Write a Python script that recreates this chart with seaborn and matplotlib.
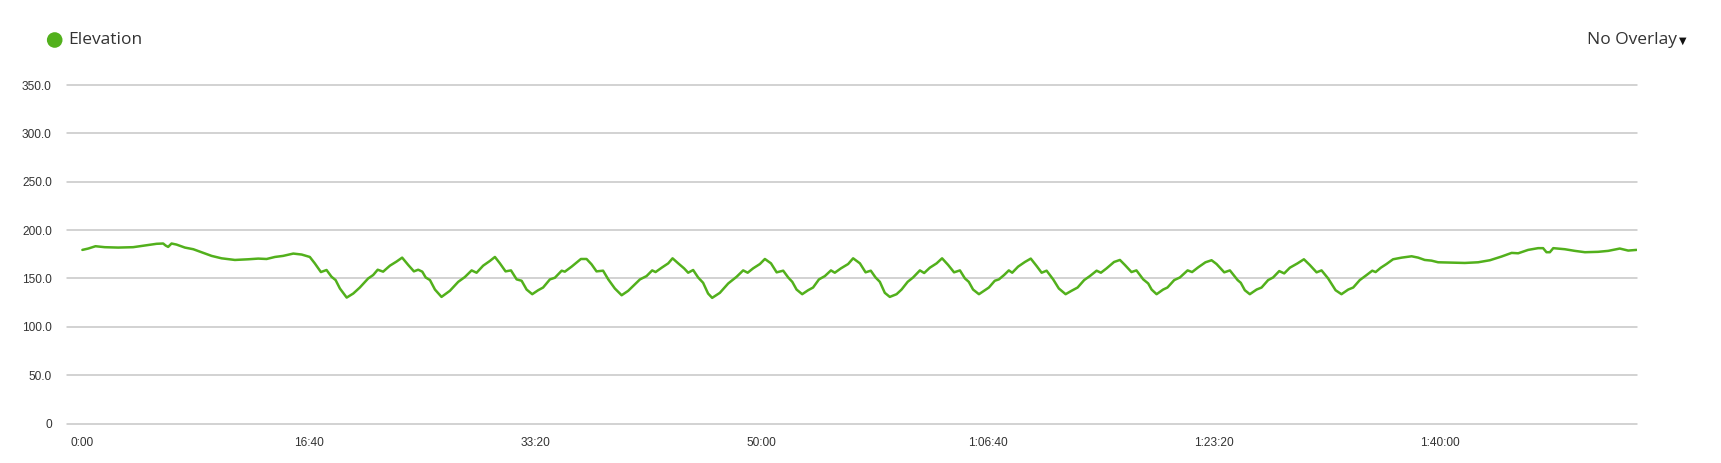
import numpy as np
import pandas as pd
import seaborn as sns
import matplotlib.pyplot as plt
from matplotlib.patches import Ellipse

# elapsed time (s) and elevation (m)
time_s = [0, 26, 58, 99, 158, 224, 276, 328, 357, 368, 379, 394, 416, 453, 490, 527, 571, 615,
          674, 733, 777, 814, 851, 887, 932, 969, 1005, 1027, 1054, 1079, 1101, 1119,
          1138, 1168, 1197, 1226, 1263, 1285, 1305, 1329, 1359, 1388, 1413, 1440, 1465, 1484,
          1502, 1517, 1536, 1558, 1587, 1624, 1661, 1690, 1720, 1742, 1771, 1801, 1823, 1845,
          1870, 1894, 1919, 1941, 1963, 1988, 2014, 2036, 2066, 2088, 2118, 2132, 2162, 2203,
          2228, 2250, 2272, 2301, 2324, 2353, 2383, 2412, 2442, 2464, 2493, 2518, 2533, 2560,
          2589, 2608, 2633, 2659, 2677, 2699, 2721, 2743, 2765, 2783, 2817, 2854, 2891, 2920,
          2940, 2964, 2994, 3016, 3043, 3068, 3097, 3119, 3137, 3156, 3181, 3207, 3229, 3255,
          3281, 3308, 3325, 3352, 3384, 3406, 3436, 3461, 3484, 3505, 3524, 3546, 3568, 3598,
          3620, 3647, 3671, 3701, 3720, 3745, 3775, 3799, 3826, 3852, 3878, 3900, 3917, 3936,
          3962, 3988, 4006, 4032, 4050, 4073, 4094, 4109, 4135, 4165, 4191, 4217, 4239, 4261,
          4290, 4315, 4345, 4371, 4398, 4427, 4452, 4482, 4501, 4526, 4559, 4585, 4607, 4636,
          4658, 4688, 4710, 4725, 4747, 4776, 4795, 4825, 4850, 4884, 4904, 4931, 4963, 4990,
          5012, 5046, 5071, 5105, 5119, 5137, 5159, 5189, 5211, 5240, 5262, 5289, 5311, 5336,
          5370, 5398, 5424, 5454, 5476, 5505, 5538, 5564, 5594, 5616, 5645, 5675, 5700, 5715,
          5738, 5763, 5792, 5830, 5874, 5903, 5932, 5962, 5991, 6050, 6109, 6168, 6220, 6271,
          6316, 6345, 6389, 6433, 6455, 6470, 6485, 6500, 6551, 6595, 6640, 6698, 6743, 6794,
          6831, 6868]
elevation = [179.5, 180.9, 183.3, 182.3, 181.9, 182.3, 184.0, 185.8, 186.1, 184.0, 182.6, 186.1,
             185.0, 181.9, 180.2, 177.1, 173.3, 170.8, 169.1, 169.8, 170.5, 170.1, 172.2, 173.3,
             175.7, 174.7, 172.2, 165.6, 156.6, 158.7, 151.7, 148.3,
             139.6, 130.2, 134.4, 140.6, 150.0, 153.5, 159.0, 157.0, 163.2, 167.4, 171.5, 163.9,
             157.3, 159.0, 157.0, 151.0, 148.3, 138.5, 130.9, 137.2, 146.5, 151.4, 158.3, 155.9,
             163.2, 168.1, 172.2, 165.6, 157.3, 158.3, 149.0, 147.6, 138.5, 133.7, 137.8, 140.6,
             149.0, 150.7, 158.0, 157.0, 162.2, 170.1, 170.1, 164.6, 157.3, 158.0, 149.0, 139.6,
             132.6, 137.2, 144.1, 149.0, 152.4, 158.3, 156.6, 161.1, 165.6, 170.8, 165.6, 160.4,
             155.9, 158.7, 151.0, 145.5, 134.4, 129.9, 135.1, 144.8, 151.7, 158.3, 155.9, 160.4,
             164.9, 170.1, 165.6, 156.3, 158.0, 151.0, 146.5, 138.5, 133.7, 137.8, 140.6, 149.0,
             152.4, 158.3, 155.9, 160.4, 164.9, 170.8, 165.6, 156.3, 158.0, 151.0, 146.5, 135.1,
             130.9, 133.7, 138.5, 146.5, 151.0, 158.3, 155.6, 161.1, 165.6, 170.8, 163.9, 156.3,
             158.3, 150.0, 146.5, 138.5, 133.7, 137.8, 140.6, 147.6, 149.0, 153.5, 158.3, 155.9,
             162.2, 167.0, 170.5, 162.8, 155.9, 158.0, 149.0, 139.6, 133.7, 137.2, 140.6, 148.3,
             152.4, 158.0, 155.9, 160.4, 167.0, 169.1, 163.9, 156.6, 158.3, 149.0, 144.8, 138.5,
             133.7, 138.5, 140.6, 148.3, 151.0, 158.3, 156.6, 161.5, 166.7, 168.8, 164.9, 156.3,
             158.3, 148.3, 145.5, 137.8, 133.7, 138.5, 140.6, 148.3, 151.0, 157.6, 155.2, 161.1,
             165.6, 169.8, 163.9, 156.3, 158.3, 150.0, 137.8, 133.7, 138.5, 140.6, 148.3, 153.5,
             158.0, 156.6, 161.1, 164.9, 169.8, 171.5, 172.9, 171.5, 169.1, 168.4, 166.7, 166.3,
             166.0, 166.7, 168.8, 172.6, 176.4, 176.0, 179.5, 181.3, 181.3, 177.1, 177.1, 181.3,
             180.2, 178.5, 177.1, 177.5, 178.5, 180.9, 178.8, 179.5]

x_ticks = [0, 1000, 2000, 3000, 4000, 5000, 6000]
x_labels = ["0:00", "16:40", "33:20", "50:00", "1:06:40", "1:23:20", "1:40:00"]
y_ticks = [0, 50, 100, 150, 200, 250, 300, 350]
y_labels = ["0", "50.0", "100.0", "150.0", "200.0", "250.0", "300.0", "350.0"]

green = "#52b01c"
grid_col = "#c6c6c6"
text_col = "#333333"

df = pd.DataFrame({"time": time_s, "elevation": elevation})

sns.set_style("white")
plt.rcParams["font.family"] = ["Liberation Sans", "DejaVu Sans"]

W, H = 1721, 463
fig = plt.figure(figsize=(W / 100, H / 100), dpi=100)
ax = fig.add_axes([67 / W, 1 - 423.5 / H, (1637 - 67) / W, (423.5 - 85) / H])

for y in y_ticks:
    ax.axhline(y, color=grid_col, linewidth=1.1, zorder=0, clip_on=False)

sns.lineplot(data=df, x="time", y="elevation", ax=ax, color=green, linewidth=1.8,
             estimator=None, sort=False)

ax.set_xlim(-68, 6870)
ax.set_ylim(0, 350)
ax.set_xticks(x_ticks)
ax.set_xticklabels(x_labels)
ax.set_yticks(y_ticks)
ax.set_yticklabels(y_labels)
ax.tick_params(axis="both", length=0, labelsize=8.6, colors=text_col)
ax.tick_params(axis="y", pad=11)
ax.tick_params(axis="x", pad=9.5)
ax.set_xlabel("")
ax.set_ylabel("")
for s in ax.spines.values():
    s.set_visible(False)

# legend header and overlay menu
fig.patches.append(Ellipse((54.7 / W, 1 - 40 / H), 15.6 / W, 15.6 / H, transform=fig.transFigure,
                           facecolor=green, edgecolor="none"))
fig.text(68 / W, 1 - 40 / H, "Elevation", fontsize=12.5, color=text_col, va="center",
         ha="left", family=["Open Sans", "DejaVu Sans"])
fig.text(1677 / W, 1 - 40 / H, "No Overlay", fontsize=12.5, color=text_col, va="center",
         ha="right", family=["Open Sans", "DejaVu Sans"])
fig.text(1679 / W, 1 - 41 / H, "\u25bc", fontsize=7, color="#111111", va="center",
         ha="left", family=["DejaVu Sans"])

fig.savefig("out.png", dpi=100)
